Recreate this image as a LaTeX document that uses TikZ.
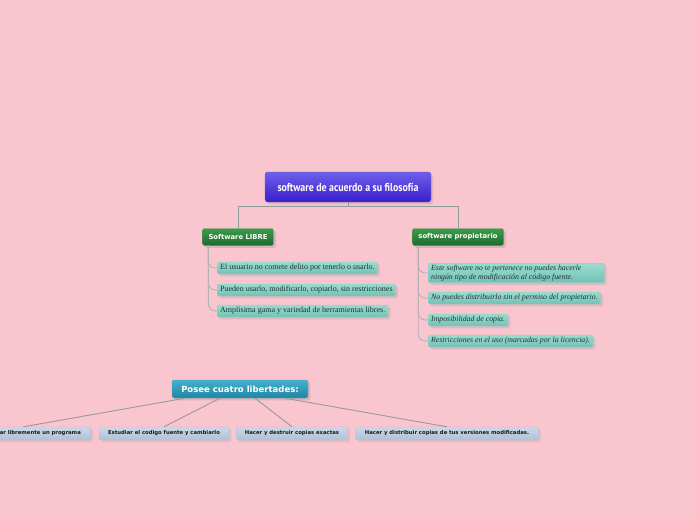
\documentclass[tikz,border=0pt]{standalone}
\usepackage{fontspec}
\setmainfont{Liberation Serif}
\newfontfamily\titlefont[FakeStretch=0.86]{PT Sans}
\newfontfamily\boxfont{DejaVu Sans}
\usetikzlibrary{positioning, shadows, calc}

\definecolor{fondo}{HTML}{F9C5CF}
\definecolor{linea}{HTML}{8E9C9C}
\definecolor{textoitem}{HTML}{1E3430}
\definecolor{raizA}{HTML}{6D5FEA}
\definecolor{raizB}{HTML}{3A1FCB}
\definecolor{ramaA}{HTML}{3C9E4B}
\definecolor{ramaB}{HTML}{1D6A2B}
\definecolor{itemA}{HTML}{9ADBCF}
\definecolor{itemB}{HTML}{72C2B4}
\definecolor{libA}{HTML}{45B0CC}
\definecolor{libB}{HTML}{1E86A3}
\definecolor{hojaA}{HTML}{CAD7E8}
\definecolor{hojaB}{HTML}{AFC2D8}

\tikzset{
    raiz/.style={rounded corners=2.5pt, top color=raizA, bottom color=raizB,
        draw=raizB!70, minimum width=166, minimum height=30, text=white,
        font=\titlefont\bfseries\fontsize{11.5}{13}\selectfont, drop shadow={opacity=0.2}},
    rama/.style={rounded corners=2pt, top color=ramaA, bottom color=ramaB,
        draw=ramaB!70, minimum height=17, inner xsep=6pt, text=white,
        font=\boxfont\bfseries\fontsize{6.8}{8}\selectfont, drop shadow={opacity=0.25}},
    item/.style={rounded corners=1.5pt, top color=itemA, bottom color=itemB,
        draw=itemB!80, minimum height=12, inner xsep=3pt, inner ysep=1.5pt, anchor=west,
        text=textoitem, font=\fontsize{8}{9}\selectfont, align=left, drop shadow={opacity=0.2}},
    itemp/.style={item, font=\itshape\fontsize{7.8}{9}\selectfont},
    libertad/.style={rounded corners=2pt, top color=libA, bottom color=libB,
        draw=libB!70, minimum width=136, minimum height=18, text=white,
        font=\boxfont\bfseries\fontsize{8.5}{10}\selectfont, drop shadow={opacity=0.25}},
    hoja/.style={rounded corners=2pt, top color=hojaA, bottom color=hojaB,
        draw=hojaB, minimum height=13, text=black!90,
        font=\boxfont\bfseries\fontsize{5.3}{6}\selectfont, drop shadow={opacity=0.15}},
    enlace/.style={draw=linea, line width=0.8pt},
    abanico/.style={draw=gray!80, line width=0.9pt},
    curva/.style={draw=gray!60, line width=0.9pt, rounded corners=7pt}
}

\begin{document}
\begin{tikzpicture}[x=1pt, y=-1pt]
    \fill[fondo] (0,0) rectangle (697,520);
    \useasboundingbox (0,0) rectangle (697,520);

    % centro
    \node[raiz] (root) at (348,187) {software de acuerdo a su filosofía};

    % ramas
    \node[rama] (libre) at (238,237) {Software LIBRE};
    \node[rama] (prop) at (458,237) {software propietario};

    \draw[enlace] (root.south) -- ++(0,4) -| (libre.north);
    \draw[enlace] (root.south) -- ++(0,4) -| (prop.north);

    % software libre
    \node[item] (l1) at (217,268) {El usuario no comete delito por tenerlo o usarlo.};
    \node[item] (l2) at (217,290) {Pueden usarlo, modificarlo, copiarlo, sin restricciones};
    \node[item] (l3) at (217,311) {Amplísima gama y variedad de herramientas libres.};

    \coordinate (lt) at ($(libre.south west)+(6,0)$);
    \foreach \n in {l1,l2,l3}
        \draw[curva] (lt) |- (\n.west);

    % software propietario
    \node[itemp] (p1) at (428,273)
        {Este software no te pertenece no puedes hacerle\rule{20pt}{0pt}\\ningún tipo de modificación al código fuente.};
    \node[itemp] (p2) at (428,298) {No puedes distribuirlo sin el permiso del propietario.};
    \node[itemp] (p3) at (428,320) {Imposibilidad de copia.};
    \node[itemp] (p4) at (428,341) {Restricciones en el uso (marcadas por la licencia).};

    \coordinate (pt) at ($(prop.south west)+(6,0)$);
    \foreach \n in {p1,p2,p3,p4}
        \draw[curva] (pt) |- (\n.west);

    % libertades
    \node[libertad] (posee) at (240,389) {Posee cuatro libertades:};

    \node[hoja, anchor=east, minimum width=101] (f1) at (91,433.5) {ar libremente un programa};
    \node[hoja, minimum width=130] (f2) at (164,433.5) {Estudiar el codigo fuente y cambiarlo};
    \node[hoja, minimum width=111] (f3) at (292,433.5) {Hacer y destruir copias exactas};
    \node[hoja, minimum width=183] (f4) at (447,433.5) {Hacer y distribuir copias de tus versiones modificadas.};

    \draw[abanico] ($(posee.south)+(-55,0)$) -- ($(f1.north)+(-17,0)$);
    \draw[abanico] ($(posee.south)+(-20,0)$) -- (f2.north);
    \draw[abanico] ($(posee.south)+(15,0)$) -- (f3.north);
    \draw[abanico] ($(posee.south)+(45,0)$) -- (f4.north);
\end{tikzpicture}
\end{document}
